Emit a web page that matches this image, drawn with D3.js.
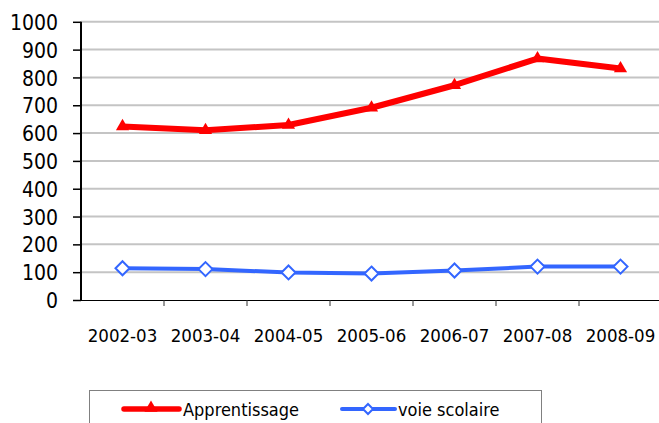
<!DOCTYPE html>
<html>
<head>
<meta charset="utf-8">
<script src="https://cdn.jsdelivr.net/npm/d3@7"></script>
<style>
  html, body { margin: 0; padding: 0; background: #fff; overflow: hidden; }
  svg { display: block; }
  text { font-family: "DejaVu Sans Condensed", "DejaVu Sans", sans-serif; font-stretch: condensed; fill: #000; }
</style>
</head>
<body>
<svg id="chart" width="659" height="423"></svg>
<script>
const categories = ["2002-03", "2003-04", "2004-05", "2005-06", "2006-07", "2007-08", "2008-09"];
const apprentissage = [624, 610, 629, 691, 772, 868, 832];
const voieScolaire = [114, 111, 99, 95, 106, 120, 120];
const yTicks = [0, 100, 200, 300, 400, 500, 600, 700, 800, 900, 1000];
const seriesNames = ["Apprentissage", "voie scolaire"];

(function () {
const svg = d3.select("#chart");
const plotLeft = 81, bandW = 83, plotTop = 21.8, plotBottom = 300;

const x = d3.scaleBand().domain(categories).range([plotLeft, plotLeft + bandW * categories.length]).padding(0);
const y = d3.scaleLinear().domain([0, 1000]).range([plotBottom, plotTop]);

// gridlines
svg.append("g").selectAll("line").data(yTicks.filter(d => d > 0)).join("line")
  .attr("x1", plotLeft).attr("x2", 659)
  .attr("y1", d => y(d)).attr("y2", d => y(d))
  .attr("stroke", "#c4c4c4").attr("stroke-width", 2);

// x axis line
svg.append("line").attr("x1", plotLeft).attr("x2", 659).attr("y1", plotBottom + 0.5).attr("y2", plotBottom + 0.5)
  .attr("stroke", "#000").attr("stroke-width", 1);

// x ticks at category boundaries
const boundaries = categories.map(c => x(c)).concat([x(categories[categories.length - 1]) + x.bandwidth()]);
svg.append("g").selectAll("line").data(boundaries.slice(1)).join("line")
  .attr("x1", d => d).attr("x2", d => d).attr("y1", plotBottom).attr("y2", plotBottom + 6)
  .attr("stroke", "#333").attr("stroke-width", 1);

// x labels
svg.append("g").selectAll("text").data(categories).join("text")
  .attr("x", d => x(d) + x.bandwidth() / 2)
  .attr("y", 342)
  .attr("text-anchor", "middle")
  .attr("font-size", "18.5px")
  .text(d => d);

// y axis
const yAxis = d3.axisLeft(y).tickValues(yTicks).tickSize(8).tickPadding(15).tickFormat(d3.format("d"));
const yg = svg.append("g").attr("transform", `translate(${plotLeft},0)`).call(yAxis);
yg.attr("font-family", null).attr("font-size", null);
yg.select(".domain").attr("stroke", "#000").attr("stroke-width", 2).attr("fill", "none").attr("d", `M0,${plotTop}V${plotBottom + 1}`);
yg.selectAll(".tick line").attr("stroke", "#000").attr("stroke-width", 1.5);
yg.selectAll(".tick text").attr("font-size", "21px").attr("dy", "0.36em");

const cx = d => x(d) + x.bandwidth() / 2;

// red line
const redData = categories.map((c, i) => [cx(c), y(apprentissage[i])]);
svg.append("path").attr("d", d3.line()(redData))
  .attr("fill", "none").attr("stroke", "#ff0000").attr("stroke-width", 6).attr("stroke-linejoin", "round");
const tri = d3.symbol().type(d3.symbolTriangle).size(75);
svg.append("g").selectAll("path").data(redData).join("path")
  .attr("d", tri).attr("transform", d => `translate(${d[0]},${d[1]})`).attr("fill", "#ff0000");

// blue line
const blueData = categories.map((c, i) => [cx(c), y(voieScolaire[i])]);
svg.append("path").attr("d", d3.line()(blueData))
  .attr("fill", "none").attr("stroke", "#3366ff").attr("stroke-width", 4).attr("stroke-linejoin", "round");
const dia = "M0,-7L7,0L0,7L-7,0Z";
svg.append("g").selectAll("path").data(blueData).join("path")
  .attr("d", dia).attr("transform", d => `translate(${d[0]},${d[1]})`)
  .attr("fill", "#fff").attr("stroke", "#3366ff").attr("stroke-width", 2);

// legend
const lg = svg.append("g");
lg.append("rect").attr("x", 89.5).attr("y", 390.5).attr("width", 452).attr("height", 60)
  .attr("fill", "#fff").attr("stroke", "#808080").attr("stroke-width", 1);
lg.append("line").attr("x1", 124).attr("x2", 179).attr("y1", 409).attr("y2", 409)
  .attr("stroke", "#ff0000").attr("stroke-width", 5.5).attr("stroke-linecap", "round");
lg.append("path").attr("d", tri).attr("transform", "translate(151,408)").attr("fill", "#ff0000");
lg.append("text").attr("x", 183).attr("y", 416).attr("font-size", "18px").text(seriesNames[0]);
lg.append("line").attr("x1", 342).attr("x2", 395).attr("y1", 409).attr("y2", 409)
  .attr("stroke", "#3366ff").attr("stroke-width", 4).attr("stroke-linecap", "round");
lg.append("path").attr("d", "M0,-5L5,0L0,5L-5,0Z").attr("transform", "translate(368,409)")
  .attr("fill", "#fff").attr("stroke", "#3366ff").attr("stroke-width", 2);
lg.append("text").attr("x", 398).attr("y", 416).attr("font-size", "18px").text(seriesNames[1]);
})();
</script>
</body>
</html>
